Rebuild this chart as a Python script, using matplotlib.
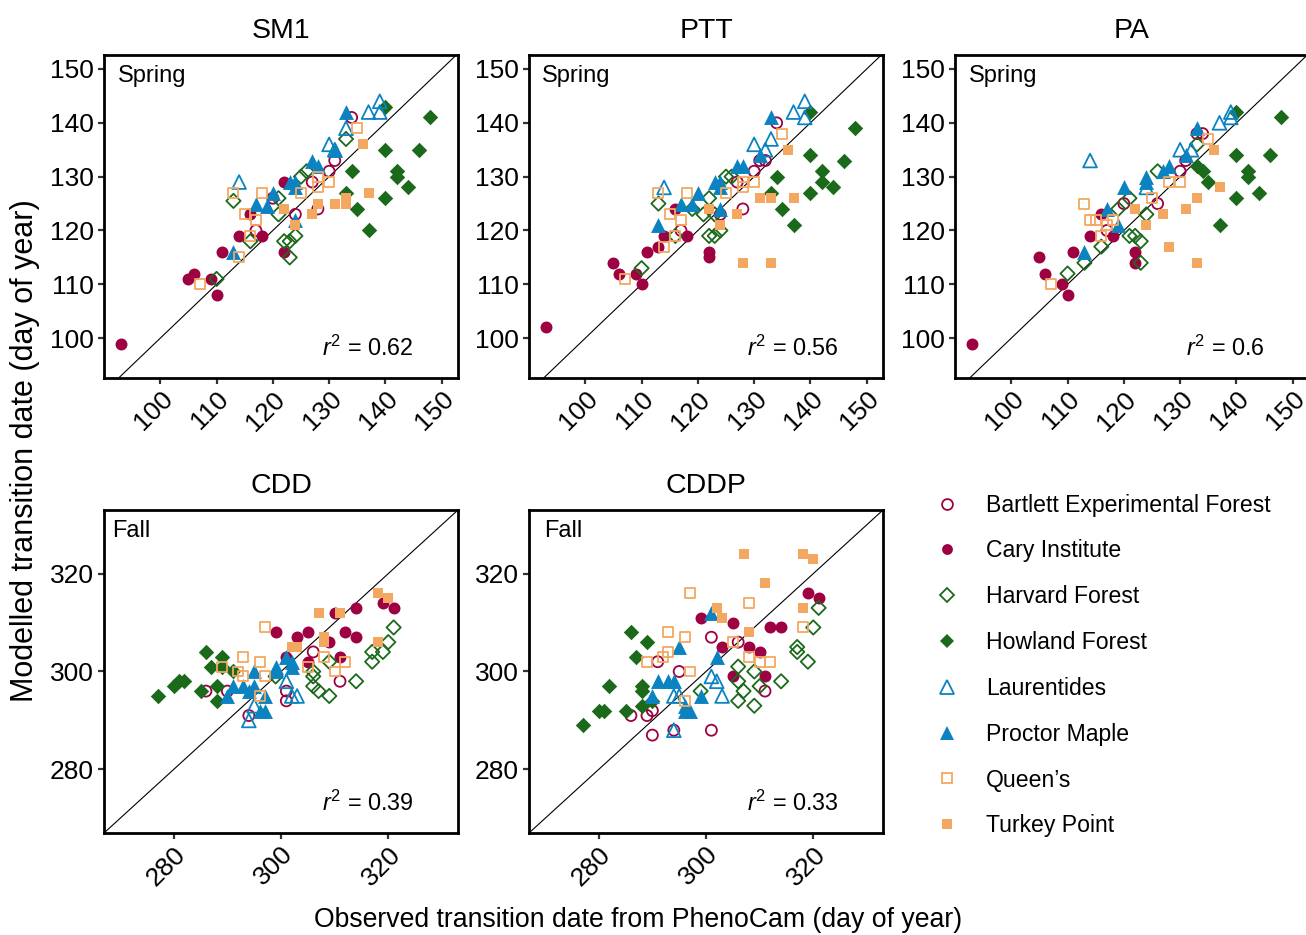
import matplotlib
matplotlib.use("Agg")
import matplotlib.pyplot as plt
from matplotlib.lines import Line2D

plt.rcParams['font.family'] = ['Liberation Sans', 'DejaVu Sans']
plt.rcParams['mathtext.fontset'] = 'custom'
plt.rcParams['mathtext.rm'] = 'Liberation Sans'
plt.rcParams['mathtext.it'] = 'Liberation Sans:italic'

# ---- site definitions -------------------------------------------------------
site_labels = ["Bartlett Experimental Forest", "Cary Institute", "Harvard Forest",
               "Howland Forest", "Laurentides", "Proctor Maple", "Queen\u2019s",
               "Turkey Point"]

MAROON = "#9E0142"
GREEN = "#1B6A1B"
BLUE = "#0B83C1"
ORANGE = "#F4A760"

# (marker, colour, filled)
site_styles = [("o", MAROON, False), ("o", MAROON, True),
               ("D", GREEN, False), ("D", GREEN, True),
               ("^", BLUE, False), ("^", BLUE, True),
               ("s", ORANGE, False), ("s", ORANGE, True)]

# ---- observed (PhenoCam) vs modelled transition dates (day of year) --------
# Spring: SM1
sm1_bartlett = [(134, 141), (131, 133), (130, 131), (127, 129), (120, 126), (124, 123), (128, 124), (117, 120)]
sm1_cary = [(93, 99), (105, 111), (106, 112), (109, 111), (110, 108), (111, 116), (114, 119), (118, 119),
            (122, 116), (122, 129), (116, 123)]
sm1_harvard = [(133, 137), (126, 131), (125, 130), (121, 126), (113, 125.5), (121, 123), (116, 118), (110, 111),
               (122, 118), (124, 119), (123, 118), (123, 115)]
sm1_howland = [(140, 143), (148, 141), (140, 135), (146, 135), (134, 131), (142, 131), (142, 130), (144, 128),
               (140, 126), (133, 127), (135, 124), (137, 120)]
sm1_laurentides = [(139, 144), (137, 142), (139, 142), (133, 139), (130, 136), (131, 135), (114, 129)]
sm1_proctor = [(133, 142), (131, 135), (127, 133), (128, 132), (123, 129), (124, 129), (124, 128), (120, 127),
               (117, 125), (119, 124.5), (124, 122), (113, 116)]
sm1_queens = [(135, 139), (128, 130), (130, 129), (128, 128), (125, 127), (118, 127), (113, 127), (115, 123),
              (117, 122), (116, 119), (114, 115), (107, 110)]
sm1_turkey = [(136, 136), (137, 127), (133, 126), (133, 125), (131, 125), (128, 125), (127, 123), (122, 124),
              (124, 121)]

# Spring: PTT
ptt_bartlett = [(134, 140), (132, 133), (131, 133), (130, 131), (127, 129), (128, 124), (124, 123), (117, 120)]
ptt_cary = [(116, 124), (114, 119), (118, 119), (111, 116), (113, 117), (105, 114), (106, 112), (109, 112),
            (110, 110), (93, 102), (122, 116), (122, 115)]
ptt_harvard = [(125, 130), (126, 130), (122, 126), (113, 125), (119, 124), (121, 123), (123, 123), (110, 113),
               (116, 119), (122, 119), (123, 119), (124, 120)]
ptt_howland = [(140, 142), (148, 139), (140, 134), (146, 133), (134, 130), (142, 131), (142, 129), (144, 128),
               (140, 127), (133, 127), (135, 124), (137, 121)]
ptt_laurentides = [(139, 144), (137, 142), (139, 141), (133, 137), (130, 136), (132, 135), (114, 128)]
ptt_proctor = [(133, 141), (131, 134), (127, 132), (128, 132), (123, 129), (124, 129), (124, 128), (120, 127),
               (117, 125), (119, 125), (124, 124), (113, 121)]
ptt_queens = [(135, 138), (128, 129), (130, 129), (128, 128), (125, 127), (118, 127), (113, 127), (115, 123),
              (117, 122), (116, 119), (114, 117), (107, 111)]
ptt_turkey = [(136, 135), (131, 126), (133, 126), (137, 126), (127, 123), (122, 124), (124, 121), (128, 114),
              (133, 114)]

# Spring: PA
pa_bartlett = [(133, 138), (134, 138), (131, 133), (130, 131), (126, 125), (120, 125), (117, 120)]
pa_cary = [(116, 123), (114, 119), (118, 119), (111, 116), (105, 115), (106, 112), (109, 110), (110, 108),
           (93, 99), (122, 116), (122, 114)]
pa_harvard = [(133, 136), (126, 131), (121, 126), (119, 124), (124, 123), (110, 112), (113, 114), (116, 117),
              (121, 119), (122, 119), (123, 118), (123, 114)]
pa_howland = [(140, 142), (148, 141), (140, 134), (146, 134), (133, 132), (134, 131), (142, 131), (142, 130),
              (135, 129), (144, 127), (140, 126), (137, 121)]
pa_laurentides = [(139, 142), (139, 141), (137, 140), (130, 135), (132, 135), (114, 133), (124, 128)]
pa_proctor = [(133, 139), (131, 134), (128, 132), (127, 131), (124, 130), (124, 129), (120, 128), (117, 124),
              (113, 116), (119, 121)]
pa_queens = [(135, 137), (130, 129), (128, 129), (125, 126), (113, 125), (114, 122), (115, 122), (118, 122),
             (117, 121), (116, 119), (107, 110)]
pa_turkey = [(136, 135), (137, 128), (133, 126), (131, 124), (127, 123), (122, 124), (124, 121), (128, 117),
             (133, 114)]

# Fall: CDD
cdd_bartlett = [(306, 304), (286, 296), (290, 296), (301, 296), (301, 294), (294, 291), (311, 298)]
cdd_cary = [(299, 308), (303, 307), (305, 308), (309, 306), (310, 312), (314, 313), (319, 314), (321, 313),
            (312, 308), (314, 307), (311, 303), (305, 302), (301, 303)]
cdd_harvard = [(321, 309), (320, 306), (319, 304), (317, 304), (317, 302), (306, 300), (309, 302), (306, 299),
               (306, 297), (307, 296), (309, 295), (314, 298), (299, 299)]
cdd_howland = [(286, 304), (289, 303), (287, 301), (289, 301), (277, 295), (280, 297), (281, 298), (282, 298),
               (285, 296), (288, 297), (288, 294), (291, 300)]
cdd_laurentides = [(301, 298), (302, 295), (303, 295), (295, 293), (294, 290)]
cdd_proctor = [(301, 303), (302, 302), (302, 301), (295, 300), (299, 300), (291, 297), (293, 297), (294, 296),
               (295, 297), (290, 295), (297, 295), (296, 292), (297, 292), (299, 301)]
cdd_queens = [(297, 309), (293, 303), (296, 302), (308, 303), (312, 302), (310, 300), (289, 301), (292, 300),
              (293, 299), (297, 299), (296, 295), (305, 301)]
cdd_turkey = [(318, 316), (320, 315), (307, 312), (311, 312), (308, 307), (308, 306), (318, 306), (302, 305),
              (303, 305)]

# Fall: CDDP
cddp_bartlett = [(301, 307), (306, 306), (291, 302), (295, 300), (286, 291), (289, 291), (290, 292), (294, 288),
                 (290, 287), (301, 288), (311, 296)]
cddp_cary = [(319, 316), (321, 315), (312, 309), (314, 309), (299, 311), (305, 310), (303, 305), (308, 305),
             (310, 304), (305, 299), (311, 299)]
cddp_harvard = [(321, 313), (320, 309), (317, 305), (317, 304), (319, 302), (306, 301), (309, 300), (306, 298),
                (307, 296), (306, 294), (310, 297), (314, 298), (309, 293), (299, 296)]
cddp_howland = [(286, 308), (289, 306), (287, 303), (282, 297), (288, 297), (288, 296), (280, 292), (281, 292),
                (285, 292), (288, 293), (277, 289), (290, 294)]
cddp_laurentides = [(301, 299), (302, 298), (303, 295), (294, 295), (295, 295), (294, 288)]
cddp_proctor = [(301, 312), (295, 305), (302, 303), (291, 298), (293, 298), (294, 298), (290, 295), (299, 295),
                (296, 293), (297, 292), (296, 292)]
cddp_queens = [(297, 316), (308, 314), (318, 309), (293, 308), (296, 307), (305, 306), (293, 304), (292, 303),
               (289, 302), (308, 303), (310, 302), (312, 302), (297, 300), (296, 294)]
cddp_turkey = [(307, 324), (318, 324), (320, 323), (311, 318), (318, 313), (302, 313), (303, 311), (308, 308)]

model_names = ["SM1", "PTT", "PA", "CDD", "CDDP"]
seasons = ["Spring", "Spring", "Spring", "Fall", "Fall"]
r2_values = ["0.62", "0.56", "0.6", "0.39", "0.33"]

spring_ticks = [100, 110, 120, 130, 140, 150]
fall_ticks = [280, 300, 320]

panel_data = [
    [sm1_bartlett, sm1_cary, sm1_harvard, sm1_howland, sm1_laurentides, sm1_proctor, sm1_queens, sm1_turkey],
    [ptt_bartlett, ptt_cary, ptt_harvard, ptt_howland, ptt_laurentides, ptt_proctor, ptt_queens, ptt_turkey],
    [pa_bartlett, pa_cary, pa_harvard, pa_howland, pa_laurentides, pa_proctor, pa_queens, pa_turkey],
    [cdd_bartlett, cdd_cary, cdd_harvard, cdd_howland, cdd_laurentides, cdd_proctor, cdd_queens, cdd_turkey],
    [cddp_bartlett, cddp_cary, cddp_harvard, cddp_howland, cddp_laurentides, cddp_proctor, cddp_queens, cddp_turkey],
]

# ---- layout (pixels on a 1306 x 935 canvas) ---------------------------------
W, H = 1306, 935
fig = plt.figure(figsize=(W / 100, H / 100), dpi=100)

panel_px = [(104, 55), (529, 55), (955, 55), (104, 510), (529, 510)]  # left, top
PW, PH = 354, 323
season_x = [0.040, 0.036, 0.040, 0.023, 0.044]

marker_sizes = {"o": 74, "D": 62, "^": 115, "s": 60}

TICK_FS = 19
TEXT_FS = 16.6

for i, (left, top) in enumerate(panel_px):
    ax = fig.add_axes([left / W, 1 - (top + PH) / H, PW / W, PH / H])
    spring = seasons[i] == "Spring"
    if spring:
        ax.set_xlim(90, 152.9)
        ax.set_ylim(92.6, 152.6)
        ticks = spring_ticks
    else:
        ax.set_xlim(267, 333)
        ax.set_ylim(267, 333)
        ticks = fall_ticks

    # 1:1 reference line
    ax.axline((0, 0), slope=1, color="black", lw=0.8, zorder=1)

    for pts, (mk, col, filled) in zip(panel_data[i], site_styles):
        xs = [p[0] for p in pts]
        ys = [p[1] for p in pts]
        if filled:
            ax.scatter(xs, ys, s=marker_sizes[mk], marker=mk, color=col, linewidths=0, zorder=3)
        else:
            ax.scatter(xs, ys, s=marker_sizes[mk] * 0.85, marker=mk, facecolors="none",
                       edgecolors=col, linewidths=1.3, zorder=3)

    ax.set_xticks(ticks)
    ax.set_yticks(ticks)
    ax.tick_params(direction="out", length=4.5, width=1.6, color="#333333",
                   labelsize=TICK_FS, labelcolor="black", pad=3)
    ax.tick_params(axis="x", pad=2)
    for lab in ax.get_xticklabels():
        lab.set_rotation(45)
        lab.set_ha("right")
        lab.set_va("top")
        lab.set_rotation_mode("anchor")
    for sp in ax.spines.values():
        sp.set_linewidth(2.0)
        sp.set_color("black")

    ax.set_title(model_names[i], fontsize=20.5, pad=12.5)
    ax.text(season_x[i], 0.916, seasons[i], transform=ax.transAxes, fontsize=17,
            ha="left", va="baseline")
    ax.text(0.875, 0.068, r"$r^2$ = " + r2_values[i], transform=ax.transAxes,
            fontsize=16.8, ha="right", va="baseline")

# ---- legend -----------------------------------------------------------------
legend_ms = {"o": 7.8, "D": 6.8, "^": 9.8, "s": 7.2}
handles = []
for mk, col, filled in site_styles:
    handles.append(Line2D([], [], linestyle="none", marker=mk, markersize=legend_ms[mk],
                          markerfacecolor=col if filled else "none", markeredgecolor=col,
                          markeredgewidth=0 if filled else 1.3))
fig.legend(handles, site_labels, loc="upper left", bbox_to_anchor=(935.5 / W, 1 - 493.6 / H),
           frameon=False, fontsize=TEXT_FS, labelspacing=0.99, handlelength=1.0,
           handletextpad=1.2, borderaxespad=0, borderpad=0)

fig.text(638 / W, 1 - 920 / H, "Observed transition date from PhenoCam (day of year)",
         fontsize=19.2, ha="center", va="center")
fig.text(25 / W, 1 - 451 / H, "Modelled transition date (day of year)",
         fontsize=22, ha="center", va="center", rotation=90)

fig.savefig("out.png", dpi=100)
